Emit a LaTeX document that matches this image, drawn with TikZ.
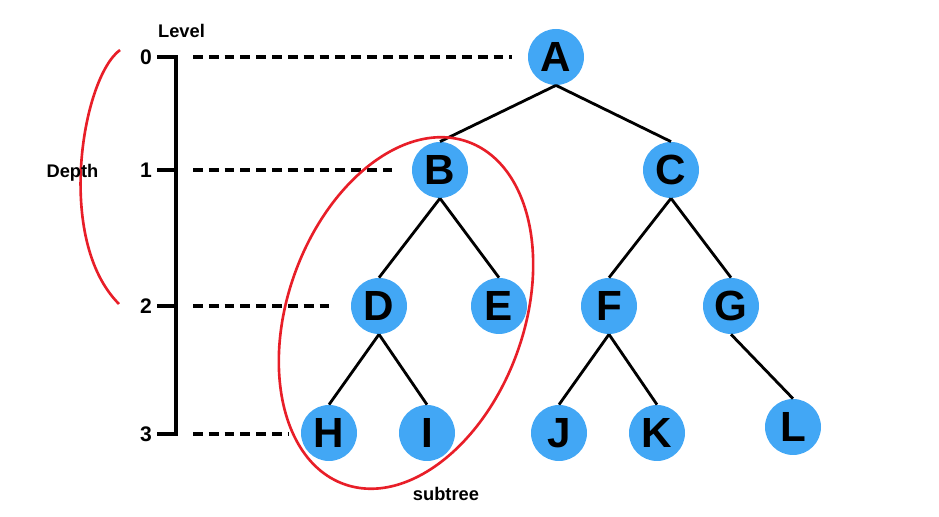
\documentclass[tikz,border=0pt]{standalone}
\usepackage{fontspec}
\setmainfont{Liberation Sans}
\definecolor{vershina}{RGB}{66,167,245}
\definecolor{krasny}{RGB}{232,30,40}
\begin{document}
\begin{tikzpicture}[
		vert/.style={circle, fill=vershina, minimum size=1.12cm, inner sep=0pt, font=\fontsize{24}{24}\selectfont\bfseries},
		rebro/.style={line width=1.6pt},
		urov/.style={line width=1.8pt, dash pattern=on 5.6pt off 3.4pt},
		krug/.style={krasny, line width=1.5pt},
		podpis/.style={font=\fontsize{10.4}{11}\selectfont\bfseries},
		cifra/.style={font=\fontsize{12}{12}\selectfont\bfseries}]
		\useasboundingbox (0,0) rectangle (18.78,10.34);
		
		% Вершины дерева
		\node[vert] (A) at (11.12,9.20) {A};
		\node[vert] (B) at (8.80,6.94) {B};
		\node[vert] (C) at (13.42,6.94) {C};
		\node[vert] (D) at (7.58,4.22) {D};
		\node[vert] (E) at (9.98,4.22) {E};
		\node[vert] (F) at (12.18,4.22) {F};
		\node[vert] (G) at (14.62,4.22) {G};
		\node[vert] (H) at (6.58,1.68) {H};
		\node[vert] (I) at (8.54,1.68) {I};
		\node[vert] (J) at (11.18,1.68) {J};
		\node[vert] (K) at (13.14,1.68) {K};
		\node[vert] (L) at (15.86,1.80) {L};
		
		% Рёбра
		\draw[rebro] (A.south) -- (B.north);
		\draw[rebro] (A.south) -- (C.north);
		\draw[rebro] (B.south) -- (D.north);
		\draw[rebro] (B.south) -- (E.north);
		\draw[rebro] (C.south) -- (F.north);
		\draw[rebro] (C.south) -- (G.north);
		\draw[rebro] (D.south) -- (H.north);
		\draw[rebro] (D.south) -- (I.north);
		\draw[rebro] (F.south) -- (J.north);
		\draw[rebro] (F.south) -- (K.north);
		\draw[rebro] (G.south) -- (L.north);
		
		% Шкала уровней
		\coordinate (u0) at (3.52,9.20);
		\coordinate (u1) at (3.52,6.94);
		\coordinate (u2) at (3.52,4.22);
		\coordinate (u3) at (3.52,1.66);
		\draw[line width=2.8pt] ([yshift=1pt]u0) -- ([yshift=-1pt]u3);
		\draw[line width=2.2pt] (3.14,9.20) -- (u0);
		\draw[line width=2.2pt] (3.14,6.94) -- (u1);
		\draw[line width=2.2pt] (3.14,4.22) -- (u2);
		\draw[line width=2.2pt] (3.14,1.66) -- (u3);
		\node[cifra] (c0) at (2.92,9.20) {0};
		\node[cifra] (c1) at (2.92,6.94) {1};
		\node[cifra] (c2) at (2.92,4.22) {2};
		\node[cifra] (c3) at (2.92,1.66) {3};
		\node[podpis] (level) at (3.63,9.72) {Level};
		
		% Пунктир до вершин
		\coordinate (k0) at (10.24,9.20);
		\coordinate (k1) at (7.84,6.94);
		\coordinate (k2) at (6.60,4.22);
		\coordinate (k3) at (5.78,1.66);
		\draw[urov] (3.86,9.20) -- (k0);
		\draw[urov] (3.86,6.94) -- (k1);
		\draw[urov] (3.86,4.22) -- (k2);
		\draw[urov] (3.86,1.66) -- (k3);
		
		% Глубина
		\draw[krug] (2.40,9.34) .. controls (1.64,8.78) and (1.10,5.54) .. (2.38,4.26);
		\node[podpis] (depth) at (1.45,6.88) {Depth};
		
		% Поддерево
		\coordinate (sub) at (8.12,4.08);
		\draw[krug, rotate around={70:(sub)}] (sub) ellipse [x radius=3.64cm, y radius=2.36cm];
		\node[podpis] (subtree) at (8.92,0.46) {subtree};
	\end{tikzpicture}
\end{document}
